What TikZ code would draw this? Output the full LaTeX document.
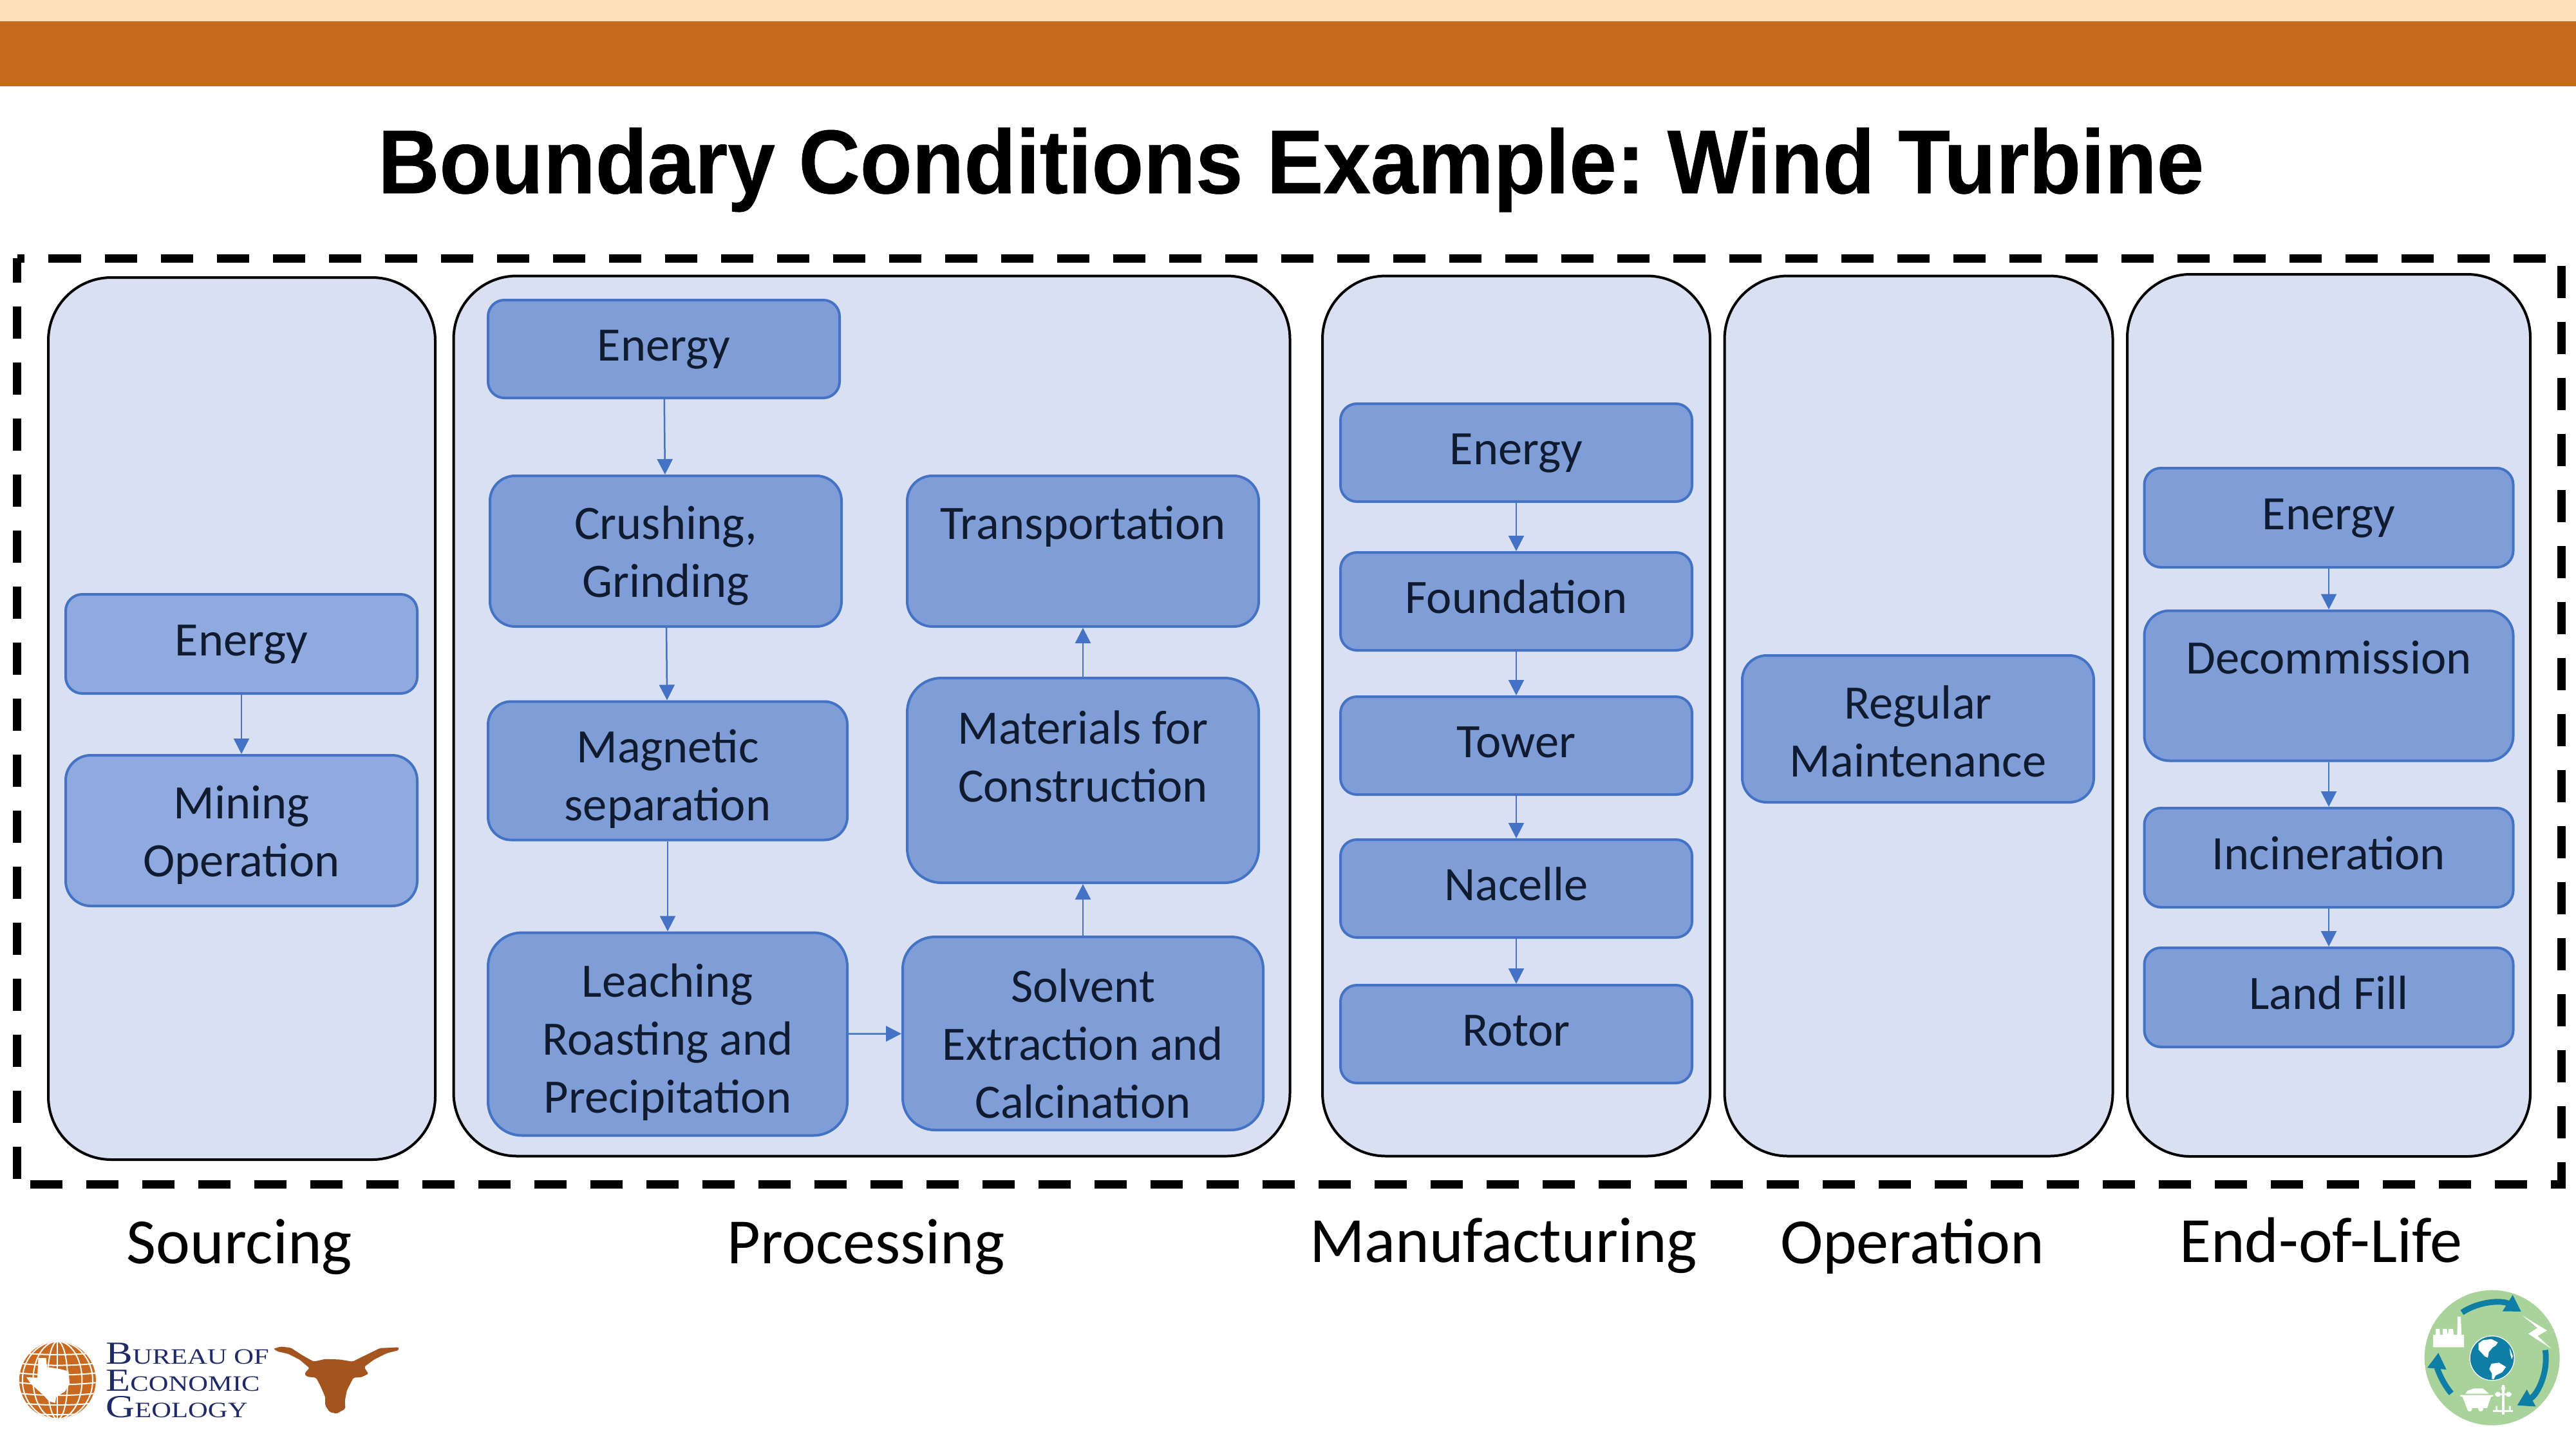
\documentclass[tikz,border=0pt]{standalone}
\usepackage{fontspec}
\usepackage{xcolor}
\setmainfont{Carlito}
\newfontfamily\titlefont[FakeStretch=0.94,BoldFeatures={FakeBold=0.5}]{Liberation Sans}
\newfontfamily\logofont[FakeStretch=1.25]{Liberation Serif}
\usetikzlibrary{arrows.meta,shapes,backgrounds}
\definecolor{bandlight}{HTML}{FEE1BA}
\definecolor{bandorange}{HTML}{C56A1C}
\definecolor{panelfill}{HTML}{D8E0F2}
\definecolor{boxfill}{HTML}{7F9ED7}
\definecolor{boxfilllight}{HTML}{8FAADF}
\definecolor{boxline}{HTML}{4472C4}
\definecolor{boxtext}{HTML}{101B30}
\definecolor{logonavy}{HTML}{1F2A66}
\definecolor{logohorn}{HTML}{A4541F}
\definecolor{logoglobe}{HTML}{C8691F}
\definecolor{logogreen}{HTML}{A9D39A}
\definecolor{logoteal}{HTML}{0F7EA5}
\newcommand{\logocap}[1]{{\fontsize{14.2}{11.8}\selectfont #1}}
\tikzset{
  panel/.style={draw=black,line width=.04cm,fill=panelfill,inner sep=0pt,rounded corners=.98cm},
  block/.style={draw=boxline,line width=.04cm,fill=boxfill,text=boxtext,align=center,inner sep=0pt,
    minimum width=5.46cm,minimum height=#1,rounded corners=#1/6,
    font=\fontsize{21.2}{25.6}\selectfont,
    execute at begin node=\strut,execute at end node=\strut},
  lastline/.style={text height=#1,text depth=0pt},
  flow/.style={-{Triangle[length=.24cm,width=.24cm]},color=boxline,line width=.025cm},
  phaselabel/.style={anchor=base,font=\fontsize{28.5}{34}\selectfont},
  boundary/.style={line width=.13cm,dash pattern=on .5cm off .37cm},
  ring/.style={draw=logoteal,line width=.09cm,-{Triangle[length=.25cm,width=.28cm]}}
}

\begin{document}
\begin{tikzpicture}
  \useasboundingbox (0,0) rectangle (40.01,-22.51);

  \fill[bandlight] (0,0) rectangle (40.01,-.33);
  \fill[bandorange] (0,-.33) rectangle (40.01,-1.34);

  \node[anchor=base,font=\titlefont\fontsize{40}{48}\selectfont\bfseries] (title) at (20.05,-3.00)
    {Boundary Conditions Example:\kern-.14cm{} Wind Turbine};

  \coordinate (tl) at (.265,-4.01);
  \coordinate (tr) at (39.78,-4.01);
  \coordinate (br) at (39.78,-18.39);
  \coordinate (bl) at (.265,-18.39);
  \draw[boundary,dash phase=.38cm] (tl) -- (tr) -- (br) -- (bl);
  \draw[boundary,dash phase=.12cm] (tl) -- (bl);

  \node[panel,minimum width=6.01cm,minimum height=13.70cm] (sourcing) at (3.755,-11.16) {};
  \node[panel,minimum width=12.99cm,minimum height=13.67cm] (processing) at (13.54,-11.12) {};
  \node[panel,minimum width=6.02cm,minimum height=13.67cm] (manufacturing) at (23.55,-11.12) {};
  \node[panel,minimum width=6.03cm,minimum height=13.67cm] (operation) at (29.80,-11.12) {};
  \node[panel,minimum width=6.26cm,minimum height=13.70cm] (endoflife) at (36.17,-11.11) {};

  \node[block=1.54cm,fill=boxfilllight] (s1) at (3.75,-10.00) {Energy};
  \node[block=2.34cm,fill=boxfilllight,lastline=1.43cm] (s2) [below of=s1,node distance=2.90cm] {Mining\\Operation};

  \node[block=1.52cm] (p1) at (10.31,-5.42) {Energy};
  \node[block=2.34cm,lastline=1.43cm] (p2) at (10.34,-8.56) {Crushing,\\Grinding};
  \node[block=2.15cm,minimum width=5.58cm,lastline=1.556cm] (p3) at (10.37,-11.97) {Magnetic\\separation};
  \node[block=3.15cm,minimum width=5.58cm,lastline=2.45cm] (p4) at (10.37,-16.06) {Leaching\\Roasting and\\Precipitation};
  \node[block=3.00cm,minimum width=5.60cm,lastline=2.628cm] (p5) at (16.82,-16.05) {Solvent\\Extraction and\\Calcination};
  \node[block=3.18cm,lastline=2.476cm] (p6) at (16.82,-12.12) {Materials for\\Construction\\~};
  \node[block=2.34cm,lastline=1.43cm] (p7) at (16.82,-8.56) {Transportation\\~};

  \node[block=1.52cm] (m1) at (23.55,-7.03) {Energy};
  \node[block=1.52cm] (m2) [below of=m1,node distance=2.31cm] {Foundation};
  \node[block=1.52cm] (m3) [below of=m2,node distance=2.24cm] {Tower};
  \node[block=1.52cm] (m4) [below of=m3,node distance=2.22cm] {Nacelle};
  \node[block=1.52cm] (m5) [below of=m4,node distance=2.26cm] {Rotor};

  \node[block=2.28cm,lastline=1.48cm] (o1) at (29.79,-11.32) {Regular\\Maintenance};

  \node[block=1.54cm,minimum width=5.73cm] (e1) at (36.17,-8.04) {Energy};
  \node[block=2.33cm,minimum width=5.73cm,lastline=1.43cm] (e2) [below of=e1,node distance=2.61cm] {Decommission\\~};
  \node[block=1.54cm,minimum width=5.73cm] (e3) [below of=e2,node distance=2.67cm] {Incineration};
  \node[block=1.54cm,minimum width=5.73cm] (e4) [below of=e3,node distance=2.17cm] {Land Fill};

  \path[flow]
    (s1) edge (s2)
    (p1) edge (p2)
    (p2) edge (p3)
    (p3) edge (p4)
    (p4) edge (p5)
    (p5) edge (p6)
    (p6) edge (p7)
    (m1) edge (m2)
    (m2) edge (m3)
    (m3) edge (m4)
    (m4) edge (m5)
    (e1) edge (e2)
    (e2) edge (e3)
    (e3) edge (e4)
    ;

  \node[phaselabel] (lsourcing) at (3.72,-19.62) {Sourcing};
  \node[phaselabel] (lprocessing) at (13.45,-19.62) {Processing};
  \node[phaselabel] (lmanufacturing) at (23.35,-19.60) {Manufacturing};
  \node[phaselabel] (loperation) at (29.70,-19.62) {Operation};
  \node[phaselabel] (lendoflife) at (36.05,-19.60) {End-of-Life};

  \begin{scope}[shift={(0,-19.80)},x=.004464cm,y=-.003333cm]
    \fill[logoglobe] (200,492) ellipse [x radius=133,y radius=182];
    \begin{scope}
      \clip (200,492) ellipse [x radius=133,y radius=182];
      \foreach \rx in {35,85,122}
        \draw[white,line width=.02cm] (200,492) ellipse [x radius=\rx,y radius=182];
      \draw[white,line width=.02cm] (200,310) -- (200,675);
      \foreach \hy in {370,420,465,510,560,605,650}
        \draw[white,line width=.02cm] (60,\hy-8) .. controls (150,\hy+6) and (250,\hy+6) .. (340,\hy-8);
    \end{scope}
    \fill[white] (133,388) -- (160,388) -- (163,430) -- (210,440) -- (238,450) -- (242,510)
      -- (225,545) -- (195,570) -- (192,598) -- (170,590) -- (150,560) -- (125,530)
      -- (108,510) -- (92,478) -- (130,480) -- cycle;
    \fill[logohorn,rounded corners=.02cm] (950,345) -- (975,335) -- (1010,340) -- (1050,375) -- (1090,405)
      -- (1130,393) -- (1180,395) -- (1225,405) -- (1270,375) -- (1320,342) -- (1385,338)
      -- (1385,352) -- (1345,365) -- (1300,395) -- (1265,430) -- (1280,462) -- (1255,478)
      -- (1228,480) -- (1205,540) -- (1198,590) -- (1200,625) -- (1170,648) -- (1145,640)
      -- (1130,610) -- (1130,570) -- (1112,515) -- (1098,480) -- (1065,475) -- (1058,460)
      -- (1075,435) -- (1040,395) -- (1000,368) -- (965,358) -- cycle;
    \node[anchor=north west,inner sep=0pt,text=logonavy,align=left,
      font=\logofont\fontsize{9.7}{11.8}\selectfont] (bureau) at (366,317)
      {\logocap{B}UREAU OF\\\logocap{E}CONOMIC\\\logocap{G}EOLOGY};
  \end{scope}

  \begin{scope}[shift={(37,-19.60)},x=.003333cm,y=-.003333cm]
    \fill[logogreen] (513,447) circle (1.05cm);
    \fill[logoteal] (513,449) circle (.345cm);
    \draw[white,line width=.012cm] (513,449) circle (.345cm);
    \fill[white] (450,380) -- (470,365) -- (510,360) -- (540,375) -- (530,390) -- (515,400)
      -- (498,420) -- (493,447) -- (478,440) -- (465,425) -- (450,410) -- cycle;
    \fill[white] (510,475) -- (545,470) -- (578,490) -- (560,515) -- (530,530) -- (520,548)
      -- (512,545) -- (512,520) -- (500,500) -- cycle;
    \fill[white] (595,400) -- (610,440) -- (605,455) -- (598,430) -- cycle;
    \fill[white] (655,250) -- (770,320) -- (725,345) -- (790,405) -- (682,335) -- (725,308) -- cycle;
    \fill[white] (238,340) -- (250,340) -- (250,312) -- (268,312) -- (270,340) -- (282,340)
      -- (282,312) -- (302,312) -- (305,340) -- (312,312) -- (330,312) -- (335,340) -- (350,340)
      -- (352,255) -- (367,255) -- (370,340) -- (382,340) -- (382,398) -- (238,398) -- cycle;
    \fill[white] (388,615) -- (400,600) -- (430,590) -- (470,590) -- (498,615) -- cycle;
    \fill[white] (365,621) -- (518,621) -- (518,629) -- (508,629) -- (490,682) -- (395,682) -- (375,629) -- (365,629) -- cycle;
    \fill[white] (408,686) circle (.04cm) (460,686) circle (.04cm);
    \fill[white] (559,575) rectangle (571,712);
    \fill[white] (526,613) rectangle (604,623);
    \fill[white] (540,618) circle (.04cm) (590,618) circle (.04cm) (565,590) circle (.035cm);
    \fill[white] (518,692) rectangle (610,701);
    \fill[white] (530,672) rectangle (538,698) (592,672) rectangle (600,698);
  \end{scope}
  \begin{scope}[shift={(38.71,-21.09)},x=.003333cm,y=.003333cm]
    \draw[ring] (123.7:255) arc (123.7:58:255);
    \draw[ring] (8.5:250) arc (8.5:-62.5:250);
    \draw[ring] (220.8:253) arc (220.8:174.4:253);
  \end{scope}
\end{tikzpicture}
\end{document}
